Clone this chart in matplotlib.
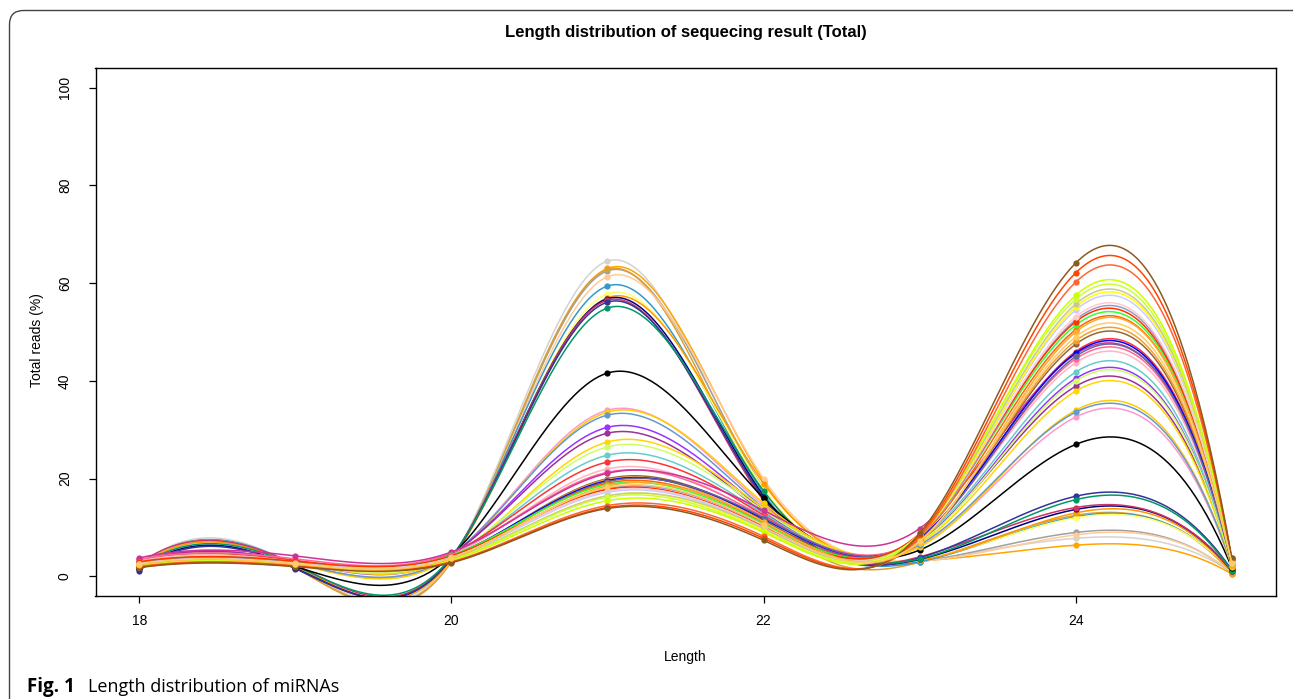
import numpy as np
import matplotlib
matplotlib.use("Agg")
import matplotlib.pyplot as plt
from matplotlib.patches import FancyBboxPatch
from matplotlib.transforms import IdentityTransform

# ===== DATA =====
lengths = [18, 19, 20, 21, 22, 23, 24, 25]

sample_colors = [
    "#D3D3D3", "#FFA500", "#A0A0A0", "#DDA030", "#FFCC99", "#3399CC", "#FFFF66",
    "#FF9900", "#000080", "#CC3366", "#333399", "#009966", "#000000", "#FF99CC",
    "#FFCC00", "#6699CC", "#9933FF", "#993399", "#FFD700", "#CCFF66", "#66CCCC",
    "#FF3333", "#FFB6C1", "#FF6699", "#CC3399", "#996633", "#F0A030", "#0000FF",
    "#666699", "#FF6600", "#33FF33", "#9999CC", "#FF3300", "#FFCCCC", "#CCCCFF",
    "#FFFF00", "#C8C896", "#CCFF33", "#CCFF00", "#FF6633", "#FF4500", "#8B5A1E",
    "#FFAA33", "#FFCC66",
]

# percentage of total reads at each length, one value per sample
pct_18 = [2.0, 1.6, 1.7, 1.8, 1.9, 2.2, 2.4, 2.0, 1.5, 2.6, 1.2, 1.9, 1.8, 3.0,
          2.8, 2.5, 2.9, 3.1, 2.7, 2.6, 3.0, 3.3, 3.2, 3.5, 3.8, 2.4, 2.3, 2.8,
          2.6, 2.5, 2.9, 2.7, 3.0, 2.6, 2.5, 2.2, 2.4, 2.3, 2.1, 2.0, 1.9, 1.8,
          2.4, 2.5]
pct_19 = [2.1, 1.8, 1.9, 1.8, 2.0, 2.3, 2.2, 2.1, 1.7, 2.4, 1.6, 2.2, 2.0, 2.8,
          2.6, 2.7, 3.0, 3.1, 2.9, 2.8, 3.2, 3.3, 3.0, 3.6, 4.2, 2.5, 2.4, 2.9,
          2.7, 2.6, 3.0, 2.8, 3.1, 2.7, 2.6, 2.4, 2.5, 2.4, 2.3, 2.2, 2.1, 2.0,
          2.5, 2.6]
pct_20 = [3.4, 3.0, 3.2, 3.1, 3.3, 3.6, 3.5, 3.4, 3.8, 3.9, 3.7, 4.0, 4.2, 4.3,
          4.1, 4.4, 4.5, 4.6, 4.0, 4.2, 4.4, 4.7, 4.3, 4.8, 5.0, 3.9, 3.8, 4.2,
          4.0, 3.9, 4.3, 4.0, 4.2, 3.9, 3.8, 3.5, 3.6, 3.4, 3.3, 3.0, 2.9, 2.8,
          3.7, 3.8]
pct_21 = [64.5, 63.0, 62.5, 62.8, 61.3, 59.4, 57.8, 57.0, 56.8, 56.5, 56.1, 54.9,
          41.6, 34.0, 33.6, 33.0, 30.5, 29.3, 27.5, 26.5, 24.8, 23.4, 22.0, 21.3,
          21.1, 20.0, 19.8, 19.6, 19.4, 19.1, 18.8, 18.0, 17.8, 17.5, 17.2, 16.5,
          16.5, 16.2, 15.5, 14.5, 14.1, 13.9, 18.5, 18.2]
pct_22 = [17.0, 19.5, 18.0, 16.0, 20.0, 17.0, 18.0, 19.0, 16.5, 15.5, 16.0, 17.5,
          16.0, 14.5, 15.0, 14.0, 13.5, 13.0, 14.0, 13.5, 12.8, 12.5, 12.0, 12.2,
          13.5, 11.5, 11.0, 11.8, 12.0, 11.0, 10.8, 10.5, 10.2, 10.0, 9.8, 9.5,
          9.8, 9.2, 9.0, 8.2, 7.8, 7.4, 11.2, 10.5]
pct_23 = [3.0, 3.2, 3.0, 2.9, 3.1, 3.0, 3.4, 3.3, 3.5, 4.0, 3.8, 3.6, 5.4, 6.2,
          6.0, 6.5, 7.0, 7.2, 6.8, 7.0, 7.4, 7.6, 7.8, 8.0, 9.8, 7.5, 7.3, 7.8,
          7.6, 8.0, 8.6, 8.2, 8.8, 8.5, 8.4, 8.2, 8.6, 8.8, 8.5, 8.0, 8.4, 8.8,
          7.0, 7.2]
pct_24 = [7.8, 6.4, 9.0, 12.5, 8.5, 12.2, 12.0, 13.0, 13.7, 14.1, 16.4, 15.7,
          27.0, 32.6, 34.0, 33.6, 40.5, 38.9, 37.9, 40.0, 41.8, 46.0, 43.7, 44.5,
          45.5, 47.5, 48.2, 45.7, 45.0, 50.5, 51.4, 52.5, 52.1, 53.1, 54.5, 55.1,
          55.7, 56.7, 57.5, 60.2, 62.1, 64.1, 50.0, 49.0]
pct_25 = [0.8, 0.5, 0.7, 0.6, 0.8, 0.9, 1.0, 0.8, 1.1, 1.2, 1.3, 1.1, 1.8, 2.2,
          2.0, 2.3, 2.5, 2.6, 2.4, 2.5, 2.8, 3.0, 2.9, 3.2, 3.8, 2.5, 2.4, 2.9,
          2.7, 2.8, 3.0, 2.9, 3.1, 3.0, 3.1, 3.2, 3.3, 3.4, 3.3, 3.5, 3.6, 3.8,
          2.6, 2.7]
# ================


def fmm_spline(x, y, xs):
    # cubic spline with Forsythe-Malcolm-Moler end conditions (R's spline default)
    x = np.asarray(x, float)
    y = np.asarray(y, float)
    n = len(x)
    h = np.diff(x)
    d = np.diff(y) / h
    A = np.zeros((n, n))
    b = np.zeros(n)
    for i in range(1, n - 1):
        A[i, i - 1] = h[i - 1]
        A[i, i] = 2 * (h[i - 1] + h[i])
        A[i, i + 1] = h[i]
        b[i] = 6 * (d[i] - d[i - 1])
    # third derivative at the ends from cubic through 4 end points
    c3_start = np.polyfit(x[:4], y[:4], 3)[0] * 6
    c3_end = np.polyfit(x[-4:], y[-4:], 3)[0] * 6
    A[0, 0], A[0, 1], b[0] = -1, 1, h[0] * c3_start
    A[-1, -2], A[-1, -1], b[-1] = -1, 1, h[-1] * c3_end
    M = np.linalg.solve(A, b)
    idx = np.clip(np.searchsorted(x, xs) - 1, 0, n - 2)
    hi = h[idx]
    t0 = x[idx + 1] - xs
    t1 = xs - x[idx]
    return (M[idx] * t0 ** 3 / (6 * hi) + M[idx + 1] * t1 ** 3 / (6 * hi)
            + (y[idx] / hi - M[idx] * hi / 6) * t0
            + (y[idx + 1] / hi - M[idx + 1] * hi / 6) * t1)


font = "Liberation Sans"
plt.rcParams["font.family"] = [font, "DejaVu Sans"]

fig = plt.figure(figsize=(12.93, 6.99), dpi=100)
ax = fig.add_axes([95.5 / 1293, 103 / 699, 1180 / 1293, 528 / 699])

table = np.array([pct_18, pct_19, pct_20, pct_21, pct_22, pct_23, pct_24, pct_25]).T
xs = np.linspace(lengths[0], lengths[-1], 400)
for row, col in zip(table, sample_colors):
    ax.plot(xs, fmm_spline(lengths, row, xs), color=col, lw=1.1)
    ax.plot(lengths, row, "o", color=col, ms=4.5, mec="none")

ax.set_xlim(17.72, 25.28)
ax.set_ylim(-4, 104)
ax.set_xticks([18, 20, 22, 24])
ax.set_yticks([0, 20, 40, 60, 80, 100])
ax.tick_params(axis="both", length=5, width=0.9, labelsize=10, direction="out")
ax.tick_params(axis="x", pad=8)
ax.tick_params(axis="y", pad=12)
for lab in ax.get_yticklabels():
    lab.set_rotation(90)
    lab.set_va("center")
for sp in ax.spines.values():
    sp.set_linewidth(1.0)

ax.set_title("Length distribution of sequecing result (Total)", fontsize=12,
             fontweight="bold", pad=0, y=1 + 35 / 528, va="center")
ax.set_xlabel("Length", fontsize=10, va="center")
ax.xaxis.set_label_coords(0.5, -61 / 528)
ax.set_ylabel("Total reads (%)", fontsize=10, va="center")
ax.yaxis.set_label_coords(-58 / 1180, 0.485)

# outer frame of the figure panel
frame = FancyBboxPatch((9.5, -60), 1310, 699 - 10.5 + 60,
                       boxstyle="round,pad=0,rounding_size=14",
                       transform=IdentityTransform(), fill=False,
                       ec="#444444", lw=1.0)
fig.add_artist(frame)

fig.text(27 / 1293, 7 / 699, "Fig. 1", family=["Open Sans", "DejaVu Sans"],
         fontweight="bold", fontsize=13.5, va="baseline")
fig.text(88 / 1293, 7 / 699, "Length distribution of miRNAs",
         family=["Open Sans", "DejaVu Sans"], fontsize=13, va="baseline")

fig.savefig("out.png", dpi=100)
